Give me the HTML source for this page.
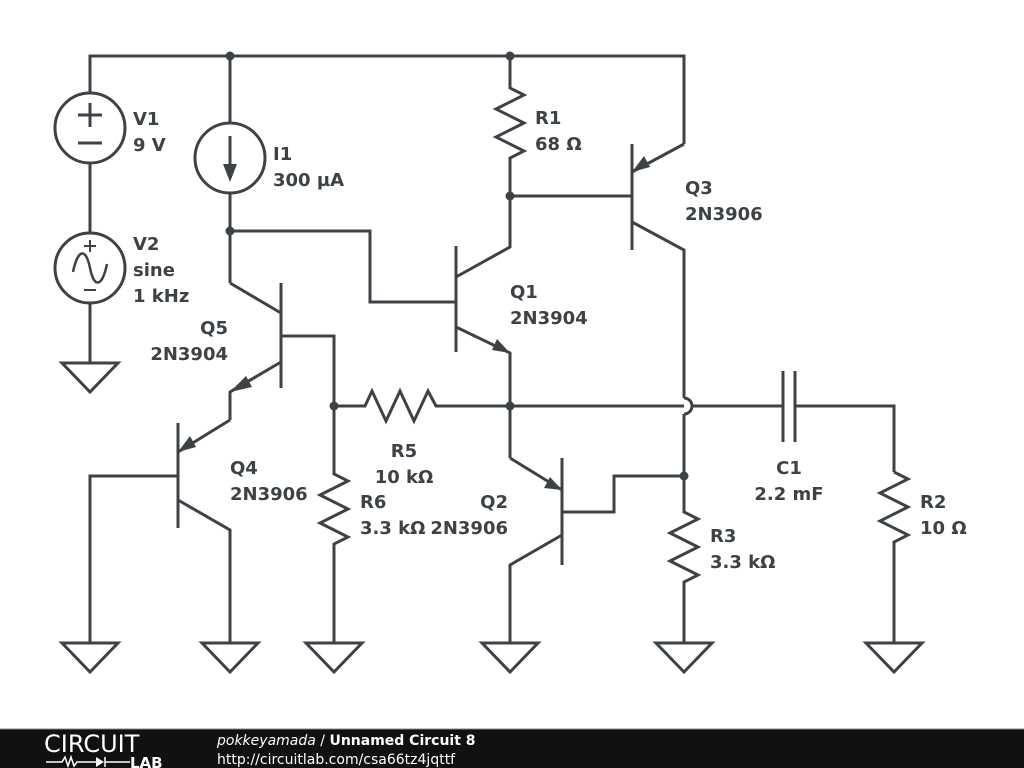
<!DOCTYPE html>
<html><head><meta charset="utf-8"><style>
html,body{margin:0;padding:0;background:#fff;width:1024px;height:768px;overflow:hidden}
svg{display:block}
text{font-family:"DejaVu Sans","Liberation Sans",sans-serif;font-weight:bold;font-size:18px;fill:#3d4247}
</style></head><body>
<svg width="1024" height="768" viewBox="0 0 1024 768" xmlns="http://www.w3.org/2000/svg">
<g fill="none" stroke="#3d4247" stroke-width="3" stroke-linejoin="miter">
<polyline points="90,93 90,56 684,56 684,144"/>
<circle cx="90" cy="128" r="35"/>
<line x1="78" y1="115" x2="102" y2="115"/><line x1="90" y1="103" x2="90" y2="127"/>
<line x1="78" y1="143" x2="102" y2="143"/>
<line x1="90" y1="163" x2="90" y2="233"/>
<circle cx="90" cy="268" r="35"/>
<path d="M73,272 C78,248 86,248 90,268 C94,288 102,288 107,264" stroke-width="2.5"/>
<line x1="84" y1="246" x2="96" y2="246" stroke-width="2"/><line x1="90" y1="240" x2="90" y2="252" stroke-width="2"/>
<line x1="84" y1="290" x2="96" y2="290" stroke-width="2"/>
<line x1="90" y1="303" x2="90" y2="363"/>
<polygon points="62,363 118,363 90,392"/>
<line x1="230" y1="56" x2="230" y2="123"/>
<circle cx="230" cy="158" r="35"/>
<line x1="230" y1="136" x2="230" y2="170"/>
<line x1="230" y1="193" x2="230" y2="283"/>
<polyline points="230,231 370,231 370,302 456,302"/>
<line x1="230" y1="283" x2="281" y2="313"/>
<line x1="281" y1="283" x2="281" y2="388"/>
<polyline points="281,336 334,336 334,462"/>
<polyline points="281,362 230,392 230,420"/>
<line x1="178" y1="423" x2="178" y2="528"/>
<line x1="230" y1="420" x2="178" y2="452"/>
<polyline points="178,476 90,476 90,643"/>
<polyline points="178,500 230,530 230,643"/>
<polyline points="334,462 334,474 348,481 320,495 348,509 320,523 348,537 334,544 334,643"/>
<polyline points="334,406 365,406 372,391 386,421 400,391 414,421 428,391 436,406 684,406"/>
<path d="M684,398 A8,8 0 0 1 684,414"/>
<line x1="692" y1="406" x2="783" y2="406"/>
<line x1="456" y1="246" x2="456" y2="352"/>
<polyline points="456,277 510,247 510,165"/>
<polyline points="456,327 510,353 510,458"/>
<polyline points="510,56 510,86 510,88 524,95 496,109 524,123 496,137 524,151 510,158 510,165"/>
<line x1="510" y1="196" x2="632" y2="196"/>
<line x1="632" y1="144" x2="632" y2="250"/>
<line x1="684" y1="144" x2="632" y2="172"/>
<polyline points="632,222 684,250 684,398"/>
<polyline points="684,414 684,505"/>
<line x1="562" y1="458" x2="562" y2="565"/>
<polyline points="510,458 562,490"/>
<polyline points="562,512 614,512 614,476 684,476"/>
<polyline points="562,535 510,565 510,643"/>
<polyline points="684,505 684,512 698,519 670,533 698,547 670,561 698,575 684,582 684,643"/>
<line x1="783" y1="371" x2="783" y2="442"/>
<line x1="795" y1="371" x2="795" y2="442"/>
<polyline points="795,406 894,406 894,472"/>
<polyline points="894,472 908,479 880,493 908,507 880,521 908,535 894,542 894,643"/>
<polygon points="62,643 118,643 90,672"/>
<polygon points="202,643 258,643 230,672"/>
<polygon points="306,643 362,643 334,672"/>
<polygon points="482,643 538,643 510,672"/>
<polygon points="656,643 712,643 684,672"/>
<polygon points="866,643 922,643 894,672"/>
</g>
<g fill="#3d4247">
<polygon points="223,164 237,164 230,182"/>
<polygon points="230,392 246,376 252,387"/>
<polygon points="178,452 190,436 196,447"/>
<polygon points="510,353 492,350 497,339"/>
<polygon points="632,172 644,156 650,167"/>
<polygon points="562,490 544,488 550,477"/>
<circle cx="230" cy="56" r="4.5"/><circle cx="510" cy="56" r="4.5"/>
<circle cx="230" cy="231" r="4.5"/><circle cx="510" cy="196" r="4.5"/>
<circle cx="334" cy="406" r="4.5"/><circle cx="510" cy="406" r="4.5"/>
<circle cx="684" cy="476" r="4.5"/>
</g>
<text x="133" y="125">V1</text><text x="133" y="151">9 V</text>
<text x="133" y="250">V2</text><text x="133" y="276">sine</text><text x="133" y="302">1 kHz</text>
<text x="273" y="160">I1</text><text x="273" y="186">300 µA</text>
<text x="228" y="334" text-anchor="end">Q5</text><text x="228" y="360" text-anchor="end">2N3904</text>
<text x="535" y="124">R1</text><text x="535" y="150">68 Ω</text>
<text x="685" y="194">Q3</text><text x="685" y="220">2N3906</text>
<text x="510" y="298">Q1</text><text x="510" y="324">2N3904</text>
<text x="230" y="474">Q4</text><text x="230" y="500">2N3906</text>
<text x="404" y="457" text-anchor="middle">R5</text><text x="404" y="483" text-anchor="middle">10 kΩ</text>
<text x="360" y="508">R6</text><text x="360" y="534">3.3 kΩ</text>
<text x="508" y="508" text-anchor="end">Q2</text><text x="508" y="534" text-anchor="end">2N3906</text>
<text x="789" y="474" text-anchor="middle">C1</text><text x="789" y="500" text-anchor="middle">2.2 mF</text>
<text x="920" y="508">R2</text><text x="920" y="534">10 Ω</text>
<text x="710" y="542">R3</text><text x="710" y="568">3.3 kΩ</text>
<rect x="0" y="729" width="1024" height="39" fill="#111"/>
<line x1="0" y1="729" x2="1024" y2="729" stroke="#888" stroke-width="1"/>
<text x="44" y="752" style="font-family:'DejaVu Sans',sans-serif;font-weight:normal;font-size:24px;fill:#fff">CIRCUIT</text>
<polyline points="46,762 62,762 65,757 68,766 71,757 74,766 77,762 96,762" fill="none" stroke="#fff" stroke-width="1.5"/>
<polygon points="96,757 96,767 104,762" fill="#fff"/>
<line x1="105" y1="757" x2="105" y2="767" stroke="#fff" stroke-width="1.5"/>
<line x1="105" y1="762" x2="130" y2="762" stroke="#fff" stroke-width="1.5"/>
<text x="130" y="768" style="font-size:15px;fill:#fff">LAB</text>
<text x="217" y="745" style="font-family:'DejaVu Sans',sans-serif;font-size:14px;fill:#fff"><tspan style="font-style:italic;font-weight:normal">pokkeyamada</tspan><tspan style="font-weight:normal"> / </tspan>Unnamed Circuit 8</text>
<text x="217" y="764" style="font-family:'DejaVu Sans',sans-serif;font-weight:normal;font-size:14px;fill:#fff">http://circuitlab.com/csa66tz4jqttf</text>
</svg>
</body></html>
